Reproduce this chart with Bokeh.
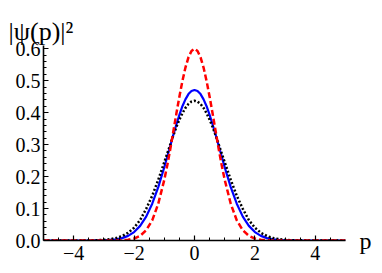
from bokeh.plotting import figure
from bokeh.models import FixedTicker, Range1d, PrintfTickFormatter, LinearAxis
from bokeh.embed import file_html
from bokeh.resources import INLINE

# ---- data ----
p_vals = [-5.0, -3.4, -3.2, -3.0, -2.8, -2.6, -2.4, -2.2, -2.0, -1.8, -1.6, -1.4, -1.2, -1.0,
          -0.9, -0.8, -0.7, -0.6, -0.5, -0.4, -0.3, -0.2, -0.1, 0.0, 0.1, 0.2, 0.3, 0.4,
          0.5, 0.6, 0.7, 0.8, 0.9, 1.0, 1.2, 1.4, 1.6, 1.8, 2.0,
          2.2, 2.4, 2.6, 2.8, 3.0, 3.2, 3.4, 5.0]

blue_vals = [0.0, 0.0001, 0.0003, 0.0007, 0.0017, 0.0036, 0.0074, 0.0145, 0.0264, 0.0457,
             0.0746, 0.115, 0.167, 0.229,
             0.263, 0.297, 0.331, 0.363, 0.393, 0.420, 0.4415, 0.458, 0.4676, 0.471,
             0.4676, 0.458, 0.4415, 0.420, 0.393, 0.363, 0.331, 0.297, 0.263,
             0.229, 0.167, 0.115, 0.0746, 0.0457, 0.0264, 0.0145, 0.0074,
             0.0036, 0.0017, 0.0007, 0.0003, 0.0001, 0.0]

black_vals = [0.0, 0.0005, 0.001, 0.002, 0.004, 0.0075, 0.014, 0.024, 0.040, 0.064, 0.099,
              0.140, 0.190, 0.245,
              0.273, 0.301, 0.329, 0.355, 0.378, 0.398, 0.4148, 0.427, 0.4345, 0.437,
              0.4345, 0.427, 0.4148, 0.398, 0.378, 0.355, 0.329, 0.301, 0.273,
              0.245, 0.190, 0.140, 0.099, 0.064, 0.040, 0.024, 0.014, 0.0075, 0.004,
              0.002, 0.001, 0.0005, 0.0]

red_vals = [0.0, 0.0, 0.0, 0.0, 0.0001, 0.0003, 0.0008, 0.0023, 0.006, 0.0145, 0.032, 0.063,
            0.115, 0.190,
            0.236, 0.287, 0.3415, 0.397, 0.450, 0.499, 0.541, 0.573, 0.593, 0.600,
            0.593, 0.573, 0.541, 0.499, 0.450, 0.397, 0.3415, 0.287, 0.236,
            0.190, 0.115, 0.063, 0.032, 0.0145, 0.006, 0.0023, 0.0008, 0.0003, 0.0001, 0.0,
            0.0, 0.0, 0.0]

x_ticks = [-4, -2, 0, 2, 4]
x_tick_labels = ["\u22124", "\u22122", "0", "2", "4"]
x_minor = [-4.5, -3.5, -3, -2.5, -1.5, -1, -0.5, 0.5, 1, 1.5, 2.5, 3, 3.5, 4.5]
y_ticks = [0.0, 0.1, 0.2, 0.3, 0.4, 0.5, 0.6]
y_minor = [0.02, 0.04, 0.06, 0.08, 0.12, 0.14, 0.16, 0.18, 0.22, 0.24, 0.26, 0.28,
           0.32, 0.34, 0.36, 0.38, 0.42, 0.44, 0.46, 0.48, 0.52, 0.54, 0.56, 0.58]
x_label = "p"
y_label = "|\u03c8(p)|\u00b2"

FONT = "Liberation Serif"

p = figure(width=374, height=265, output_backend="svg", toolbar_location=None,
           x_range=Range1d(-5, 5), y_range=Range1d(0, 0.61),
           min_border_left=43, min_border_right=24, min_border_top=45, min_border_bottom=25)
p.outline_line_color = None
p.xgrid.visible = False
p.ygrid.visible = False
p.background_fill_color = "white"
p.border_fill_color = "white"

p.line(p_vals, blue_vals, line_color="#0000ff", line_width=2.2)
p.line(p_vals, black_vals, line_color="black", line_width=2.5, line_dash="2 2")
p.line(p_vals, red_vals, line_color="#ff0000", line_width=2.5, line_dash="6 3")

for ax in (p.xaxis[0], p.yaxis[0]):
    ax.axis_line_width = 1.6
    ax.axis_line_color = "black"
    ax.major_tick_line_color = "black"
    ax.minor_tick_line_color = "black"
    ax.major_tick_line_width = 1.2
    ax.minor_tick_line_width = 1
    ax.major_tick_in = 5
    ax.major_tick_out = 0
    ax.minor_tick_in = 3
    ax.minor_tick_out = 0
    ax.major_label_text_font = FONT
    ax.major_label_text_font_size = "20px"
    ax.major_label_text_color = "black"

p.xaxis.ticker = FixedTicker(ticks=x_ticks, minor_ticks=x_minor)
p.xaxis.major_label_overrides = {t: s for t, s in zip(x_ticks, x_tick_labels)}
p.xaxis.major_label_standoff = 5
p.yaxis.ticker = FixedTicker(ticks=y_ticks, minor_ticks=y_minor)
p.yaxis.formatter = PrintfTickFormatter(format="%.1f")
p.yaxis.major_label_standoff = 3

# x-axis label at the right end of the axis (Mathematica style)
p_axis = LinearAxis(ticker=FixedTicker(ticks=[0]), major_label_overrides={0: x_label},
                    axis_line_color=None, major_tick_line_color=None,
                    minor_tick_line_color=None, major_label_standoff=8,
                    major_label_text_font=FONT, major_label_text_font_size="24px",
                    major_label_text_color="black")
p.add_layout(p_axis, "right")

# y-axis label at the top-left
p.title.text = y_label
p.title.text_font = FONT
p.title.text_font_size = "26px"
p.title.text_font_style = "normal"
p.title.text_color = "black"
p.title.align = "left"
p.title.offset = -35
p.title.standoff = 0

open("out.html", "w").write(file_html(p, INLINE))
